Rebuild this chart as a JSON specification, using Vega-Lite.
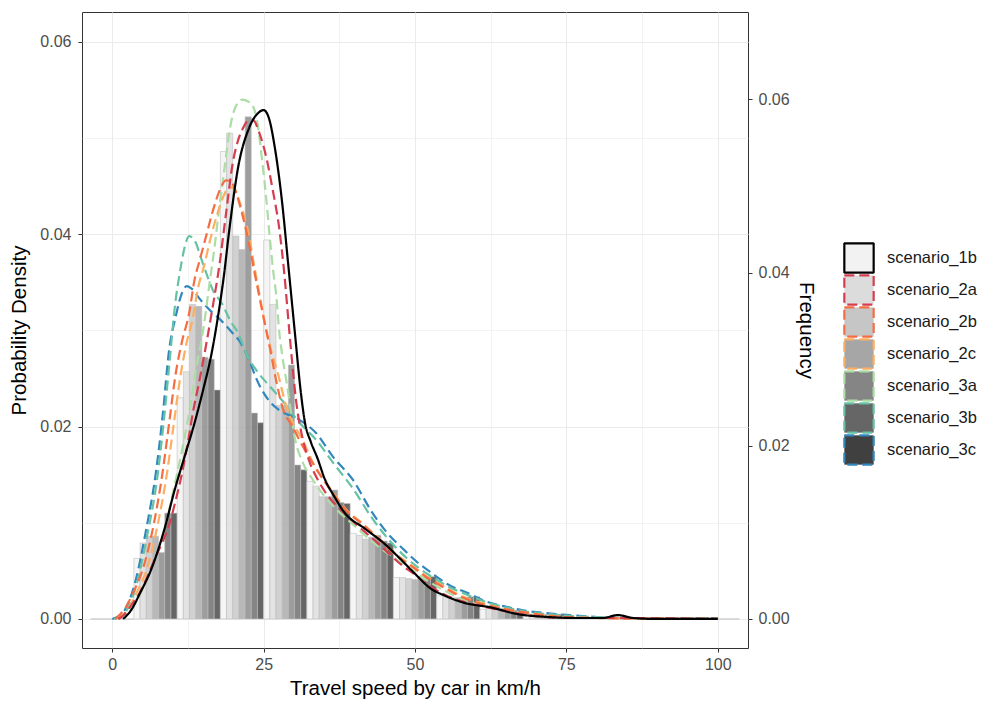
{
  "$schema": "https://vega.github.io/schema/vega-lite/v6.json",
  "width": 666,
  "height": 636,
  "autosize": {"type": "none"},
  "padding": {"left": 82, "top": 12, "right": 243, "bottom": 54},
  "background": "white",
  "config": {
    "font": "Liberation Sans",
    "view": {"stroke": "#333333", "strokeWidth": 1},
    "axis": {
      "domain": false,
      "tickColor": "#333333",
      "tickSize": 4,
      "tickWidth": 1,
      "labelColor": "#4D4D4D",
      "labelFontSize": 16,
      "titleFontSize": 20.5,
      "titleFontWeight": "normal",
      "titleColor": "#000000",
      "gridColor": "#EBEBEB"
    },
    "legend": {
      "orient": "none",
      "legendX": 761,
      "legendY": 230,
      "symbolType": "square",
      "symbolSize": 860,
      "symbolStrokeWidth": 2.2,
      "labelFontSize": 16.5,
      "labelColor": "#1A1A1A",
      "labelOffset": 12,
      "rowPadding": -1.2,
      "title": null
    }
  },
  "datasets": {
    "bars": [
      {"b": 0, "s": "scenario_1b", "v": 0}, {"b": 0, "s": "scenario_2a", "v": 0}, {"b": 0, "s": "scenario_2b", "v": 0}, {"b": 0, "s": "scenario_2c", "v": 0}, {"b": 0, "s": "scenario_3a", "v": 0}, {"b": 0, "s": "scenario_3b", "v": 0}, {"b": 0, "s": "scenario_3c", "v": 0},
      {"b": 7.14, "s": "scenario_1b", "v": 0.0063}, {"b": 7.14, "s": "scenario_2a", "v": 0.0079}, {"b": 7.14, "s": "scenario_2b", "v": 0.0086}, {"b": 7.14, "s": "scenario_2c", "v": 0.0086}, {"b": 7.14, "s": "scenario_3a", "v": 0.0069}, {"b": 7.14, "s": "scenario_3b", "v": 0.011}, {"b": 7.14, "s": "scenario_3c", "v": 0.011},
      {"b": 14.29, "s": "scenario_1b", "v": 0.023}, {"b": 14.29, "s": "scenario_2a", "v": 0.0257}, {"b": 14.29, "s": "scenario_2b", "v": 0.0327}, {"b": 14.29, "s": "scenario_2c", "v": 0.0325}, {"b": 14.29, "s": "scenario_3a", "v": 0.0272}, {"b": 14.29, "s": "scenario_3b", "v": 0.027}, {"b": 14.29, "s": "scenario_3c", "v": 0.0238},
      {"b": 21.43, "s": "scenario_1b", "v": 0.0486}, {"b": 21.43, "s": "scenario_2a", "v": 0.0505}, {"b": 21.43, "s": "scenario_2b", "v": 0.0398}, {"b": 21.43, "s": "scenario_2c", "v": 0.0384}, {"b": 21.43, "s": "scenario_3a", "v": 0.0522}, {"b": 21.43, "s": "scenario_3b", "v": 0.0214}, {"b": 21.43, "s": "scenario_3c", "v": 0.0204},
      {"b": 28.57, "s": "scenario_1b", "v": 0.0394}, {"b": 28.57, "s": "scenario_2a", "v": 0.0327}, {"b": 28.57, "s": "scenario_2b", "v": 0.0222}, {"b": 28.57, "s": "scenario_2c", "v": 0.0222}, {"b": 28.57, "s": "scenario_3a", "v": 0.0264}, {"b": 28.57, "s": "scenario_3b", "v": 0.016}, {"b": 28.57, "s": "scenario_3c", "v": 0.0155},
      {"b": 35.71, "s": "scenario_1b", "v": 0.0143}, {"b": 35.71, "s": "scenario_2a", "v": 0.0138}, {"b": 35.71, "s": "scenario_2b", "v": 0.0127}, {"b": 35.71, "s": "scenario_2c", "v": 0.0127}, {"b": 35.71, "s": "scenario_3a", "v": 0.0134}, {"b": 35.71, "s": "scenario_3b", "v": 0.0121}, {"b": 35.71, "s": "scenario_3c", "v": 0.012},
      {"b": 42.86, "s": "scenario_1b", "v": 0.0089}, {"b": 42.86, "s": "scenario_2a", "v": 0.0087}, {"b": 42.86, "s": "scenario_2b", "v": 0.0083}, {"b": 42.86, "s": "scenario_2c", "v": 0.0085}, {"b": 42.86, "s": "scenario_3a", "v": 0.0087}, {"b": 42.86, "s": "scenario_3b", "v": 0.0081}, {"b": 42.86, "s": "scenario_3c", "v": 0.0079},
      {"b": 50, "s": "scenario_1b", "v": 0.0043}, {"b": 50, "s": "scenario_2a", "v": 0.0043}, {"b": 50, "s": "scenario_2b", "v": 0.0042}, {"b": 50, "s": "scenario_2c", "v": 0.0041}, {"b": 50, "s": "scenario_3a", "v": 0.0042}, {"b": 50, "s": "scenario_3b", "v": 0.0044}, {"b": 50, "s": "scenario_3c", "v": 0.0044},
      {"b": 57.14, "s": "scenario_1b", "v": 0.0024}, {"b": 57.14, "s": "scenario_2a", "v": 0.0023}, {"b": 57.14, "s": "scenario_2b", "v": 0.0022}, {"b": 57.14, "s": "scenario_2c", "v": 0.0022}, {"b": 57.14, "s": "scenario_3a", "v": 0.0022}, {"b": 57.14, "s": "scenario_3b", "v": 0.0023}, {"b": 57.14, "s": "scenario_3c", "v": 0.0023},
      {"b": 64.29, "s": "scenario_1b", "v": 0.001}, {"b": 64.29, "s": "scenario_2a", "v": 0.0011}, {"b": 64.29, "s": "scenario_2b", "v": 0.0011}, {"b": 64.29, "s": "scenario_2c", "v": 0.0011}, {"b": 64.29, "s": "scenario_3a", "v": 0.001}, {"b": 64.29, "s": "scenario_3b", "v": 0.0009}, {"b": 64.29, "s": "scenario_3c", "v": 0.0009},
      {"b": 71.43, "s": "scenario_1b", "v": 0.0004}, {"b": 71.43, "s": "scenario_2a", "v": 0.0005}, {"b": 71.43, "s": "scenario_2b", "v": 0.0005}, {"b": 71.43, "s": "scenario_2c", "v": 0.0005}, {"b": 71.43, "s": "scenario_3a", "v": 0.0004}, {"b": 71.43, "s": "scenario_3b", "v": 0.0005}, {"b": 71.43, "s": "scenario_3c", "v": 0.0005},
      {"b": 78.57, "s": "scenario_1b", "v": 0.0002}, {"b": 78.57, "s": "scenario_2a", "v": 0.0002}, {"b": 78.57, "s": "scenario_2b", "v": 0.0002}, {"b": 78.57, "s": "scenario_2c", "v": 0.0002}, {"b": 78.57, "s": "scenario_3a", "v": 0.0002}, {"b": 78.57, "s": "scenario_3b", "v": 0.0002}, {"b": 78.57, "s": "scenario_3c", "v": 0.0002},
      {"b": 85.71, "s": "scenario_1b", "v": 0.0002}, {"b": 85.71, "s": "scenario_2a", "v": 0.0001}, {"b": 85.71, "s": "scenario_2b", "v": 0.0001}, {"b": 85.71, "s": "scenario_2c", "v": 0.0001}, {"b": 85.71, "s": "scenario_3a", "v": 0.0001}, {"b": 85.71, "s": "scenario_3b", "v": 0.0001}, {"b": 85.71, "s": "scenario_3c", "v": 0.0001},
      {"b": 92.86, "s": "scenario_1b", "v": 0}, {"b": 92.86, "s": "scenario_2a", "v": 0}, {"b": 92.86, "s": "scenario_2b", "v": 0}, {"b": 92.86, "s": "scenario_2c", "v": 0}, {"b": 92.86, "s": "scenario_3a", "v": 0}, {"b": 92.86, "s": "scenario_3b", "v": 0}, {"b": 92.86, "s": "scenario_3c", "v": 0},
      {"b": 100, "s": "scenario_1b", "v": 0}, {"b": 100, "s": "scenario_2a", "v": 0}, {"b": 100, "s": "scenario_2b", "v": 0}, {"b": 100, "s": "scenario_2c", "v": 0}, {"b": 100, "s": "scenario_3a", "v": 0}, {"b": 100, "s": "scenario_3b", "v": 0}, {"b": 100, "s": "scenario_3c", "v": 0}
    ],
    "lines": [
      {"s": "scenario_3c", "x": 0, "y": 0}, {"s": "scenario_3c", "x": 1.7, "y": 0.0006}, {"s": "scenario_3c", "x": 3.9, "y": 0.0041}, {"s": "scenario_3c", "x": 5.6, "y": 0.0093}, {"s": "scenario_3c", "x": 7.2, "y": 0.0152}, {"s": "scenario_3c", "x": 8.3, "y": 0.021}, {"s": "scenario_3c", "x": 9.4, "y": 0.028}, {"s": "scenario_3c", "x": 10.5, "y": 0.0315}, {"s": "scenario_3c", "x": 11.4, "y": 0.0337}, {"s": "scenario_3c", "x": 12.3, "y": 0.0346}, {"s": "scenario_3c", "x": 13, "y": 0.0344}, {"s": "scenario_3c", "x": 14.4, "y": 0.0333}, {"s": "scenario_3c", "x": 15.5, "y": 0.0325}, {"s": "scenario_3c", "x": 16.6, "y": 0.0318}, {"s": "scenario_3c", "x": 17.7, "y": 0.0312}, {"s": "scenario_3c", "x": 19.9, "y": 0.0297}, {"s": "scenario_3c", "x": 21, "y": 0.0289}, {"s": "scenario_3c", "x": 22.1, "y": 0.0276}, {"s": "scenario_3c", "x": 24.3, "y": 0.0243}, {"s": "scenario_3c", "x": 26, "y": 0.0226}, {"s": "scenario_3c", "x": 27.6, "y": 0.0217}, {"s": "scenario_3c", "x": 30.9, "y": 0.0207}, {"s": "scenario_3c", "x": 33.7, "y": 0.0193}, {"s": "scenario_3c", "x": 36.4, "y": 0.0169}, {"s": "scenario_3c", "x": 39.7, "y": 0.0145}, {"s": "scenario_3c", "x": 43, "y": 0.011}, {"s": "scenario_3c", "x": 45.2, "y": 0.0091}, {"s": "scenario_3c", "x": 48, "y": 0.0073}, {"s": "scenario_3c", "x": 50.2, "y": 0.006}, {"s": "scenario_3c", "x": 52.7, "y": 0.0048}, {"s": "scenario_3c", "x": 55.7, "y": 0.0035}, {"s": "scenario_3c", "x": 58.7, "y": 0.0027}, {"s": "scenario_3c", "x": 61.8, "y": 0.0018}, {"s": "scenario_3c", "x": 64.8, "y": 0.0013}, {"s": "scenario_3c", "x": 67.8, "y": 0.0009}, {"s": "scenario_3c", "x": 71.7, "y": 0.0006}, {"s": "scenario_3c", "x": 75.5, "y": 0.0004}, {"s": "scenario_3c", "x": 80, "y": 0.0002}, {"s": "scenario_3c", "x": 85.5, "y": 0.0001}, {"s": "scenario_3c", "x": 100, "y": 0.0001},
      {"s": "scenario_3b", "x": 0.3, "y": 0}, {"s": "scenario_3b", "x": 1.9, "y": 0.0005}, {"s": "scenario_3b", "x": 4.1, "y": 0.0038}, {"s": "scenario_3b", "x": 5.8, "y": 0.0088}, {"s": "scenario_3b", "x": 7.4, "y": 0.0145}, {"s": "scenario_3b", "x": 8.5, "y": 0.0205}, {"s": "scenario_3b", "x": 9.5, "y": 0.027}, {"s": "scenario_3b", "x": 10.4, "y": 0.0328}, {"s": "scenario_3b", "x": 11.1, "y": 0.0358}, {"s": "scenario_3b", "x": 11.9, "y": 0.0385}, {"s": "scenario_3b", "x": 12.7, "y": 0.0398}, {"s": "scenario_3b", "x": 13.8, "y": 0.0391}, {"s": "scenario_3b", "x": 14.4, "y": 0.038}, {"s": "scenario_3b", "x": 15.5, "y": 0.036}, {"s": "scenario_3b", "x": 16.6, "y": 0.0342}, {"s": "scenario_3b", "x": 18.1, "y": 0.0328}, {"s": "scenario_3b", "x": 19.5, "y": 0.031}, {"s": "scenario_3b", "x": 20.8, "y": 0.0297}, {"s": "scenario_3b", "x": 22.1, "y": 0.0276}, {"s": "scenario_3b", "x": 24.1, "y": 0.0256}, {"s": "scenario_3b", "x": 26, "y": 0.0242}, {"s": "scenario_3b", "x": 27.4, "y": 0.0232}, {"s": "scenario_3b", "x": 29, "y": 0.022}, {"s": "scenario_3b", "x": 30.5, "y": 0.0207}, {"s": "scenario_3b", "x": 33.7, "y": 0.0186}, {"s": "scenario_3b", "x": 36.4, "y": 0.0163}, {"s": "scenario_3b", "x": 39.7, "y": 0.0136}, {"s": "scenario_3b", "x": 43, "y": 0.0104}, {"s": "scenario_3b", "x": 46, "y": 0.008}, {"s": "scenario_3b", "x": 50.2, "y": 0.0055}, {"s": "scenario_3b", "x": 53, "y": 0.0043}, {"s": "scenario_3b", "x": 55.7, "y": 0.0033}, {"s": "scenario_3b", "x": 58.7, "y": 0.0025}, {"s": "scenario_3b", "x": 62, "y": 0.0017}, {"s": "scenario_3b", "x": 65, "y": 0.0012}, {"s": "scenario_3b", "x": 68, "y": 0.0008}, {"s": "scenario_3b", "x": 72, "y": 0.0005}, {"s": "scenario_3b", "x": 76, "y": 0.0003}, {"s": "scenario_3b", "x": 80, "y": 0.0002}, {"s": "scenario_3b", "x": 86, "y": 0.0001}, {"s": "scenario_3b", "x": 100, "y": 0.0001},
      {"s": "scenario_3a", "x": 1, "y": 0}, {"s": "scenario_3a", "x": 2.8, "y": 0.0009}, {"s": "scenario_3a", "x": 4.5, "y": 0.0025}, {"s": "scenario_3a", "x": 6.1, "y": 0.0048}, {"s": "scenario_3a", "x": 7.5, "y": 0.007}, {"s": "scenario_3a", "x": 8.6, "y": 0.0093}, {"s": "scenario_3a", "x": 10.5, "y": 0.0145}, {"s": "scenario_3a", "x": 12.4, "y": 0.0204}, {"s": "scenario_3a", "x": 14.1, "y": 0.0269}, {"s": "scenario_3a", "x": 15.2, "y": 0.0308}, {"s": "scenario_3a", "x": 16, "y": 0.0346}, {"s": "scenario_3a", "x": 16.9, "y": 0.0387}, {"s": "scenario_3a", "x": 17.7, "y": 0.0429}, {"s": "scenario_3a", "x": 18.5, "y": 0.0467}, {"s": "scenario_3a", "x": 19.3, "y": 0.0505}, {"s": "scenario_3a", "x": 20.4, "y": 0.0533}, {"s": "scenario_3a", "x": 21.5, "y": 0.054}, {"s": "scenario_3a", "x": 22.9, "y": 0.0536}, {"s": "scenario_3a", "x": 24, "y": 0.0515}, {"s": "scenario_3a", "x": 24.8, "y": 0.0474}, {"s": "scenario_3a", "x": 25.4, "y": 0.0439}, {"s": "scenario_3a", "x": 25.95, "y": 0.0401}, {"s": "scenario_3a", "x": 26.5, "y": 0.0366}, {"s": "scenario_3a", "x": 27.1, "y": 0.0335}, {"s": "scenario_3a", "x": 27.6, "y": 0.0297}, {"s": "scenario_3a", "x": 28.1, "y": 0.0273}, {"s": "scenario_3a", "x": 29, "y": 0.0238}, {"s": "scenario_3a", "x": 30.1, "y": 0.019}, {"s": "scenario_3a", "x": 31.5, "y": 0.0162}, {"s": "scenario_3a", "x": 33, "y": 0.0146}, {"s": "scenario_3a", "x": 35, "y": 0.0128}, {"s": "scenario_3a", "x": 37.5, "y": 0.0111}, {"s": "scenario_3a", "x": 40, "y": 0.0097}, {"s": "scenario_3a", "x": 43, "y": 0.008}, {"s": "scenario_3a", "x": 46, "y": 0.0066}, {"s": "scenario_3a", "x": 49, "y": 0.0053}, {"s": "scenario_3a", "x": 52, "y": 0.004}, {"s": "scenario_3a", "x": 55, "y": 0.0029}, {"s": "scenario_3a", "x": 58, "y": 0.002}, {"s": "scenario_3a", "x": 62, "y": 0.0013}, {"s": "scenario_3a", "x": 66, "y": 0.0008}, {"s": "scenario_3a", "x": 70, "y": 0.0004}, {"s": "scenario_3a", "x": 75, "y": 0.0002}, {"s": "scenario_3a", "x": 80, "y": 0.0001}, {"s": "scenario_3a", "x": 100, "y": 0},
      {"s": "scenario_2c", "x": 1, "y": 0}, {"s": "scenario_2c", "x": 2.8, "y": 0.0012}, {"s": "scenario_2c", "x": 4, "y": 0.0027}, {"s": "scenario_2c", "x": 5.6, "y": 0.005}, {"s": "scenario_2c", "x": 7.5, "y": 0.0098}, {"s": "scenario_2c", "x": 9, "y": 0.015}, {"s": "scenario_2c", "x": 10.1, "y": 0.02}, {"s": "scenario_2c", "x": 11.2, "y": 0.025}, {"s": "scenario_2c", "x": 12.2, "y": 0.0285}, {"s": "scenario_2c", "x": 13.2, "y": 0.031}, {"s": "scenario_2c", "x": 14.2, "y": 0.0345}, {"s": "scenario_2c", "x": 15.2, "y": 0.0368}, {"s": "scenario_2c", "x": 16.2, "y": 0.0395}, {"s": "scenario_2c", "x": 17.3, "y": 0.042}, {"s": "scenario_2c", "x": 18.4, "y": 0.044}, {"s": "scenario_2c", "x": 19.4, "y": 0.0449}, {"s": "scenario_2c", "x": 20.2, "y": 0.0447}, {"s": "scenario_2c", "x": 21.1, "y": 0.0432}, {"s": "scenario_2c", "x": 22.5, "y": 0.0401}, {"s": "scenario_2c", "x": 23.5, "y": 0.0365}, {"s": "scenario_2c", "x": 24.3, "y": 0.0338}, {"s": "scenario_2c", "x": 25.1, "y": 0.031}, {"s": "scenario_2c", "x": 26, "y": 0.0285}, {"s": "scenario_2c", "x": 27.4, "y": 0.0254}, {"s": "scenario_2c", "x": 28.7, "y": 0.0222}, {"s": "scenario_2c", "x": 29.8, "y": 0.0204}, {"s": "scenario_2c", "x": 31.3, "y": 0.0188}, {"s": "scenario_2c", "x": 33.1, "y": 0.0163}, {"s": "scenario_2c", "x": 36.4, "y": 0.0132}, {"s": "scenario_2c", "x": 38.6, "y": 0.0114}, {"s": "scenario_2c", "x": 41.4, "y": 0.0099}, {"s": "scenario_2c", "x": 44, "y": 0.0084}, {"s": "scenario_2c", "x": 46.5, "y": 0.0069}, {"s": "scenario_2c", "x": 49.6, "y": 0.0055}, {"s": "scenario_2c", "x": 52, "y": 0.0044}, {"s": "scenario_2c", "x": 55, "y": 0.0033}, {"s": "scenario_2c", "x": 58, "y": 0.0023}, {"s": "scenario_2c", "x": 62, "y": 0.0015}, {"s": "scenario_2c", "x": 66, "y": 0.0009}, {"s": "scenario_2c", "x": 70, "y": 0.0005}, {"s": "scenario_2c", "x": 75, "y": 0.0002}, {"s": "scenario_2c", "x": 80, "y": 0.0001}, {"s": "scenario_2c", "x": 100, "y": 0},
      {"s": "scenario_2b", "x": 0.5, "y": 0}, {"s": "scenario_2b", "x": 2.3, "y": 0.0013}, {"s": "scenario_2b", "x": 3.5, "y": 0.0028}, {"s": "scenario_2b", "x": 5, "y": 0.0051}, {"s": "scenario_2b", "x": 6.9, "y": 0.01}, {"s": "scenario_2b", "x": 8.3, "y": 0.0152}, {"s": "scenario_2b", "x": 9.4, "y": 0.0204}, {"s": "scenario_2b", "x": 10.5, "y": 0.0256}, {"s": "scenario_2b", "x": 11.5, "y": 0.0288}, {"s": "scenario_2b", "x": 12.7, "y": 0.0318}, {"s": "scenario_2b", "x": 13.6, "y": 0.0353}, {"s": "scenario_2b", "x": 14.4, "y": 0.0372}, {"s": "scenario_2b", "x": 15.5, "y": 0.0398}, {"s": "scenario_2b", "x": 16.6, "y": 0.0424}, {"s": "scenario_2b", "x": 17.7, "y": 0.0445}, {"s": "scenario_2b", "x": 18.8, "y": 0.0456}, {"s": "scenario_2b", "x": 19.6, "y": 0.0455}, {"s": "scenario_2b", "x": 20.4, "y": 0.0444}, {"s": "scenario_2b", "x": 21.5, "y": 0.042}, {"s": "scenario_2b", "x": 22.6, "y": 0.039}, {"s": "scenario_2b", "x": 23.5, "y": 0.036}, {"s": "scenario_2b", "x": 24.3, "y": 0.0335}, {"s": "scenario_2b", "x": 25.1, "y": 0.031}, {"s": "scenario_2b", "x": 26, "y": 0.0283}, {"s": "scenario_2b", "x": 27, "y": 0.025}, {"s": "scenario_2b", "x": 28.2, "y": 0.0218}, {"s": "scenario_2b", "x": 29.8, "y": 0.02}, {"s": "scenario_2b", "x": 30.9, "y": 0.0186}, {"s": "scenario_2b", "x": 33.1, "y": 0.0162}, {"s": "scenario_2b", "x": 36.4, "y": 0.0131}, {"s": "scenario_2b", "x": 38.6, "y": 0.0113}, {"s": "scenario_2b", "x": 41.4, "y": 0.0098}, {"s": "scenario_2b", "x": 44, "y": 0.0083}, {"s": "scenario_2b", "x": 46.5, "y": 0.0068}, {"s": "scenario_2b", "x": 49.6, "y": 0.0054}, {"s": "scenario_2b", "x": 52, "y": 0.0043}, {"s": "scenario_2b", "x": 55, "y": 0.0032}, {"s": "scenario_2b", "x": 58, "y": 0.0022}, {"s": "scenario_2b", "x": 62, "y": 0.0014}, {"s": "scenario_2b", "x": 66, "y": 0.0009}, {"s": "scenario_2b", "x": 70, "y": 0.0005}, {"s": "scenario_2b", "x": 75, "y": 0.0002}, {"s": "scenario_2b", "x": 80, "y": 0.0001}, {"s": "scenario_2b", "x": 100, "y": 0},
      {"s": "scenario_2a", "x": 1, "y": 0}, {"s": "scenario_2a", "x": 1.7, "y": 0.0003}, {"s": "scenario_2a", "x": 3, "y": 0.0013}, {"s": "scenario_2a", "x": 4.5, "y": 0.0027}, {"s": "scenario_2a", "x": 6, "y": 0.0047}, {"s": "scenario_2a", "x": 7.2, "y": 0.0065}, {"s": "scenario_2a", "x": 8.3, "y": 0.008}, {"s": "scenario_2a", "x": 9.4, "y": 0.0098}, {"s": "scenario_2a", "x": 10.5, "y": 0.0124}, {"s": "scenario_2a", "x": 11.6, "y": 0.0154}, {"s": "scenario_2a", "x": 12.5, "y": 0.0184}, {"s": "scenario_2a", "x": 13.3, "y": 0.0214}, {"s": "scenario_2a", "x": 14.4, "y": 0.0248}, {"s": "scenario_2a", "x": 15.5, "y": 0.0285}, {"s": "scenario_2a", "x": 16.6, "y": 0.0325}, {"s": "scenario_2a", "x": 17.7, "y": 0.0368}, {"s": "scenario_2a", "x": 18.8, "y": 0.0422}, {"s": "scenario_2a", "x": 19.9, "y": 0.0474}, {"s": "scenario_2a", "x": 20.7, "y": 0.0496}, {"s": "scenario_2a", "x": 21.5, "y": 0.0509}, {"s": "scenario_2a", "x": 22.4, "y": 0.0518}, {"s": "scenario_2a", "x": 23.2, "y": 0.0519}, {"s": "scenario_2a", "x": 24.3, "y": 0.0505}, {"s": "scenario_2a", "x": 25.4, "y": 0.0481}, {"s": "scenario_2a", "x": 26.5, "y": 0.0446}, {"s": "scenario_2a", "x": 27.6, "y": 0.0405}, {"s": "scenario_2a", "x": 28.4, "y": 0.036}, {"s": "scenario_2a", "x": 29.3, "y": 0.0295}, {"s": "scenario_2a", "x": 30.4, "y": 0.0225}, {"s": "scenario_2a", "x": 31.5, "y": 0.0186}, {"s": "scenario_2a", "x": 32.6, "y": 0.0163}, {"s": "scenario_2a", "x": 34, "y": 0.0144}, {"s": "scenario_2a", "x": 36, "y": 0.0125}, {"s": "scenario_2a", "x": 38, "y": 0.0112}, {"s": "scenario_2a", "x": 40, "y": 0.01}, {"s": "scenario_2a", "x": 42, "y": 0.0089}, {"s": "scenario_2a", "x": 44, "y": 0.0078}, {"s": "scenario_2a", "x": 46, "y": 0.0066}, {"s": "scenario_2a", "x": 48, "y": 0.0055}, {"s": "scenario_2a", "x": 50, "y": 0.0046}, {"s": "scenario_2a", "x": 52, "y": 0.0036}, {"s": "scenario_2a", "x": 55, "y": 0.0025}, {"s": "scenario_2a", "x": 58, "y": 0.0018}, {"s": "scenario_2a", "x": 62, "y": 0.0012}, {"s": "scenario_2a", "x": 66, "y": 0.0007}, {"s": "scenario_2a", "x": 70, "y": 0.0003}, {"s": "scenario_2a", "x": 75, "y": 0.0001}, {"s": "scenario_2a", "x": 80, "y": 0.0001}, {"s": "scenario_2a", "x": 100, "y": 0},
      {"s": "scenario_1b", "x": 1.8, "y": 0}, {"s": "scenario_1b", "x": 3.1, "y": 0.0009}, {"s": "scenario_1b", "x": 4.6, "y": 0.0027}, {"s": "scenario_1b", "x": 6.4, "y": 0.0051}, {"s": "scenario_1b", "x": 8.6, "y": 0.0093}, {"s": "scenario_1b", "x": 10.3, "y": 0.0134}, {"s": "scenario_1b", "x": 11.95, "y": 0.0169}, {"s": "scenario_1b", "x": 13.6, "y": 0.0204}, {"s": "scenario_1b", "x": 15, "y": 0.0238}, {"s": "scenario_1b", "x": 16.4, "y": 0.0276}, {"s": "scenario_1b", "x": 17.6, "y": 0.032}, {"s": "scenario_1b", "x": 18.4, "y": 0.0355}, {"s": "scenario_1b", "x": 19.3, "y": 0.0403}, {"s": "scenario_1b", "x": 20.8, "y": 0.047}, {"s": "scenario_1b", "x": 22.5, "y": 0.0509}, {"s": "scenario_1b", "x": 24.1, "y": 0.0526}, {"s": "scenario_1b", "x": 25, "y": 0.0529}, {"s": "scenario_1b", "x": 25.8, "y": 0.0522}, {"s": "scenario_1b", "x": 26.9, "y": 0.0488}, {"s": "scenario_1b", "x": 28, "y": 0.0436}, {"s": "scenario_1b", "x": 29.1, "y": 0.0366}, {"s": "scenario_1b", "x": 30.2, "y": 0.0295}, {"s": "scenario_1b", "x": 31.1, "y": 0.0238}, {"s": "scenario_1b", "x": 31.8, "y": 0.0205}, {"s": "scenario_1b", "x": 32.8, "y": 0.0184}, {"s": "scenario_1b", "x": 33.9, "y": 0.0167}, {"s": "scenario_1b", "x": 35, "y": 0.0147}, {"s": "scenario_1b", "x": 36.7, "y": 0.0127}, {"s": "scenario_1b", "x": 38.3, "y": 0.0111}, {"s": "scenario_1b", "x": 41.7, "y": 0.0094}, {"s": "scenario_1b", "x": 45, "y": 0.0078}, {"s": "scenario_1b", "x": 47, "y": 0.0066}, {"s": "scenario_1b", "x": 50, "y": 0.0047}, {"s": "scenario_1b", "x": 52.5, "y": 0.0032}, {"s": "scenario_1b", "x": 55, "y": 0.0024}, {"s": "scenario_1b", "x": 58, "y": 0.0017}, {"s": "scenario_1b", "x": 62.5, "y": 0.0012}, {"s": "scenario_1b", "x": 67, "y": 0.0005}, {"s": "scenario_1b", "x": 72, "y": 0.0002}, {"s": "scenario_1b", "x": 77, "y": 0.0001}, {"s": "scenario_1b", "x": 81, "y": 0.0001}, {"s": "scenario_1b", "x": 83.5, "y": 0.0004}, {"s": "scenario_1b", "x": 86, "y": 0.0001}, {"s": "scenario_1b", "x": 90, "y": 0}, {"s": "scenario_1b", "x": 100, "y": 0}
    ],
    "freqaxis": [{"f": 0}, {"f": 0.06}]
  },
  "layer": [
    {
      "data": {"name": "bars"},
      "mark": {"type": "bar", "stroke": "#BFBFBF", "strokeWidth": 0.6, "strokeOpacity": 1, "fillOpacity": 0.8},
      "encoding": {
        "x": {"field": "b", "type": "ordinal", "scale": {"paddingInner": 0, "paddingOuter": 0.2}, "axis": null},
        "xOffset": {"field": "s", "type": "nominal", "scale": {"domain": ["scenario_1b", "scenario_2a", "scenario_2b", "scenario_2c", "scenario_3a", "scenario_3b", "scenario_3c"], "paddingInner": 0, "paddingOuter": 0}},
        "y": {
          "field": "v", "type": "quantitative",
          "scale": {"domain": [-0.00302, 0.0631], "nice": false, "zero": false},
          "axis": {
            "orient": "left",
            "title": "Probability Density",
            "titlePadding": 10,
            "values": [0, 0.01, 0.02, 0.03, 0.04, 0.05, 0.06],
            "labelExpr": "round(datum.value*100) % 2 === 1 ? '' : format(datum.value, '.2f')",
            "labelPadding": 7,
            "grid": true,
            "gridWidth": {"condition": {"test": "round(datum.value*100) % 2 === 1", "value": 0.6}, "value": 1.1},
            "tickOpacity": {"condition": {"test": "round(datum.value*100) % 2 === 1", "value": 0}, "value": 1}
          }
        },
        "fill": {
          "field": "s", "type": "nominal",
          "scale": {"domain": ["scenario_1b", "scenario_2a", "scenario_2b", "scenario_2c", "scenario_3a", "scenario_3b", "scenario_3c"], "range": ["#F2F2F2", "#DCDCDC", "#C6C6C6", "#A6A6A6", "#858585", "#666666", "#404040"]},
          "legend": {"title": null, "symbolType": "square", "encode": {"symbols": {"update": {"strokeJoin": {"value": "bevel"}}}}}
        }
      }
    },
    {
      "data": {"name": "lines"},
      "mark": {"type": "line", "interpolate": "monotone", "strokeWidth": 2.2},
      "encoding": {
        "x": {
          "field": "x", "type": "quantitative",
          "scale": {"domain": [-5, 105], "nice": false, "zero": false},
          "axis": {
            "orient": "bottom",
            "title": "Travel speed by car in km/h",
            "titlePadding": 6,
            "values": [0, 12.5, 25, 37.5, 50, 62.5, 75, 87.5, 100],
            "labelExpr": "datum.value % 25 === 0 ? format(datum.value, 'd') : ''",
            "labelPadding": 4,
            "grid": true,
            "gridWidth": {"condition": {"test": "datum.value % 25 !== 0", "value": 0.6}, "value": 1.1},
            "tickOpacity": {"condition": {"test": "datum.value % 25 !== 0", "value": 0}, "value": 1}
          }
        },
        "y": {"field": "y", "type": "quantitative", "scale": {"domain": [-0.00302, 0.0631], "nice": false, "zero": false}, "axis": null},
        "stroke": {
          "field": "s", "type": "nominal",
          "scale": {"domain": ["scenario_1b", "scenario_2a", "scenario_2b", "scenario_2c", "scenario_3a", "scenario_3b", "scenario_3c"], "range": ["#000000", "#D53E4F", "#F46D43", "#FDAE61", "#ABDDA4", "#66C2A5", "#3288BD"]},
          "legend": {"title": null, "symbolType": "square", "encode": {"symbols": {"update": {"strokeJoin": {"value": "bevel"}}}}}
        },
        "strokeDash": {
          "field": "s", "type": "nominal",
          "scale": {"domain": ["scenario_1b", "scenario_2a", "scenario_2b", "scenario_2c", "scenario_3a", "scenario_3b", "scenario_3c"], "range": [[1, 0], [10, 5], [10, 5], [10, 5], [10, 5], [10, 5], [10, 5]]},
          "legend": {"title": null, "symbolType": "square", "encode": {"symbols": {"update": {"strokeJoin": {"value": "bevel"}}}}}
        }
      }
    },
    {
      "data": {"name": "freqaxis"},
      "mark": {"type": "rule", "strokeOpacity": 0},
      "encoding": {
        "y": {
          "field": "f", "type": "quantitative",
          "scale": {"domain": [-0.00336, 0.0701], "nice": false, "zero": false},
          "axis": {
            "orient": "right",
            "title": "Frequency",
            "titlePadding": 6,
            "values": [0, 0.02, 0.04, 0.06],
            "format": ".2f",
            "labelPadding": 6,
            "grid": false
          }
        }
      }
    }
  ],
  "resolve": {"scale": {"x": "independent", "y": "independent"}}
}
